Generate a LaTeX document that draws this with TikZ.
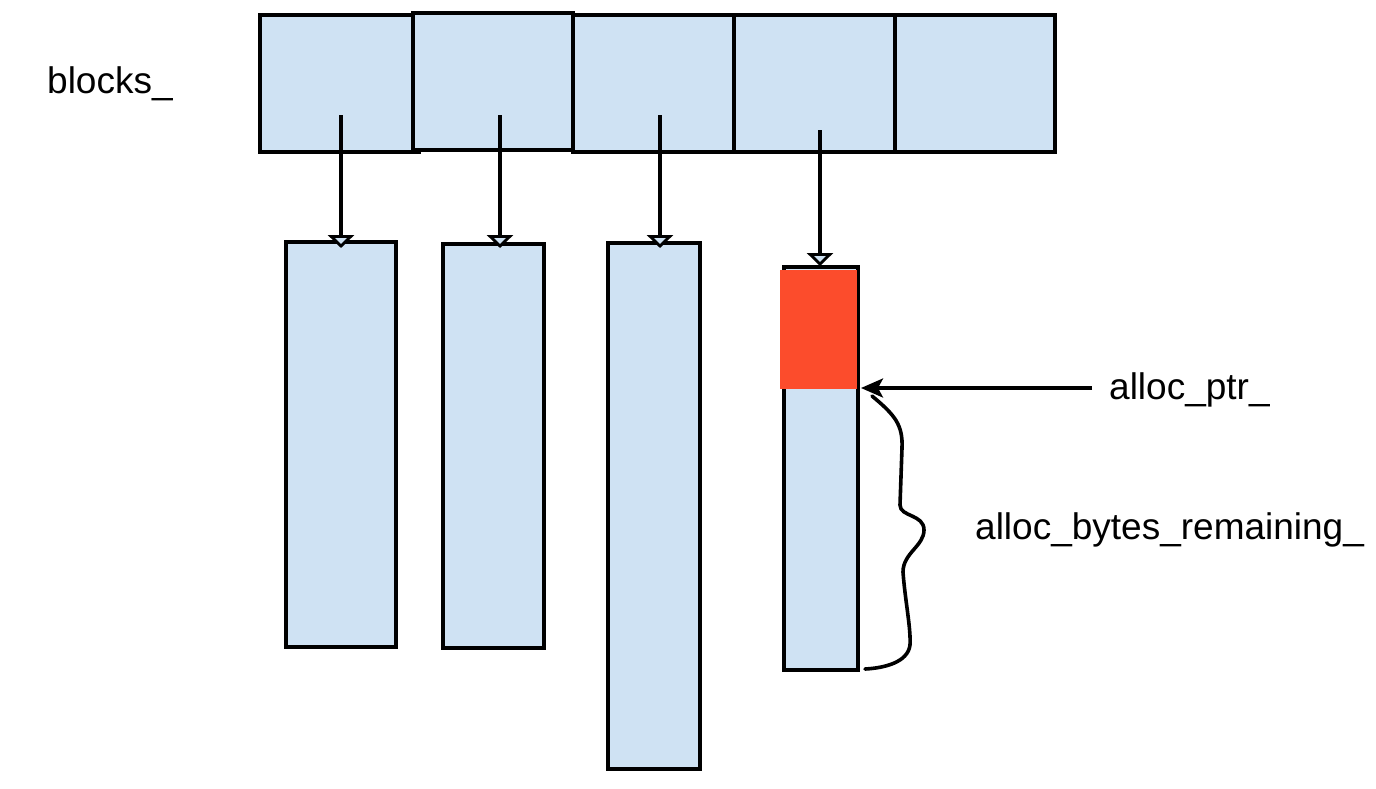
\documentclass[tikz,border=0pt]{standalone}
\usepackage{fontspec}
\setmainfont{Liberation Sans}
\usetikzlibrary{arrows.meta}
\definecolor{boxblue}{RGB}{207,226,243}
\definecolor{usedred}{RGB}{252,76,44}
\tikzset{
  cell/.style={draw=black, fill=boxblue, line width=3.6pt, inner sep=0pt, outer sep=0pt},
  usedpart/.style={fill=usedred, draw=none, inner sep=0pt, outer sep=0pt},
  ptrarrow/.style={line width=3.2pt, -{Triangle[width=26pt,length=13pt,fill=boxblue,line width=2.8pt]}},
  tagtext/.style={font=\fontsize{37}{44}\selectfont, inner sep=0pt, anchor=west},
  brace/.style={line width=3.6pt, line cap=round},
}
\begin{document}
\begin{tikzpicture}[x=1pt,y=-1pt]
\useasboundingbox (0,0) rectangle (1376,788);
% top row
\node[cell, minimum width=159pt, minimum height=137pt] (t1) at (339.5,83.5) {};
\node[cell, minimum width=160pt, minimum height=137pt] (t2) at (493,81.5) {};
\node[cell, minimum width=161pt, minimum height=137pt] (t3) at (653.5,83.5) {};
\node[cell, minimum width=161pt, minimum height=137pt] (t4) at (814.5,83.5) {};
\node[cell, minimum width=160pt, minimum height=137pt] (t5) at (975,83.5) {};
% blocks
\node[cell, minimum width=110pt, minimum height=405pt] (r1) at (341,444.5) {};
\node[cell, minimum width=101pt, minimum height=404pt] (r2) at (493.5,446) {};
\node[cell, minimum width=92pt, minimum height=526pt] (r3) at (654,506) {};
\node[cell, minimum width=74pt, minimum height=403pt] (r4) at (821,468.5) {};
\node[usedpart, minimum width=77pt, minimum height=119pt] (used) at (818.5,329) {};
% pointer sources
\coordinate (s1) at (341,115);
\coordinate (s2) at (500,115);
\coordinate (s3) at (660,115);
\coordinate (s4) at (820,130);
\coordinate (e1) at (341,248);
\coordinate (e2) at (500,248);
\coordinate (e3) at (660,248);
\coordinate (e4) at (820,266);
\draw[ptrarrow] (s1) -- (e1);
\draw[ptrarrow] (s2) -- (e2);
\draw[ptrarrow] (s3) -- (e3);
\draw[ptrarrow] (s4) -- (e4);
% labels
\node[tagtext] (blocks) at (47,84) {blocks\_};
\node[tagtext] (ptr) at (1109,390) {alloc\_ptr\_};
\node[tagtext] (rem) at (975,530) {alloc\_bytes\_remaining\_};
% alloc_ptr arrow
\coordinate (ptrtip) at (861,388);
\draw[line width=3.2pt, -{Stealth[length=22pt,width=19pt,inset=5pt]}] ([xshift=-17pt]ptr.west |- ptrtip) -- (ptrtip);
% brace
\coordinate (bt) at (872,396);
\coordinate (bb) at (865,669);
\draw[brace] (bt) .. controls (895,415) and (903,425) .. (902,448)
  -- (900,505) .. controls (900,517) and (924,514) .. (924,530)
  .. controls (924,546) and (903,553) .. (903,572)
  .. controls (905,600) and (911,628) .. (910,645)
  .. controls (908,662) and (885,668) .. (bb);
\end{tikzpicture}
\end{document}
